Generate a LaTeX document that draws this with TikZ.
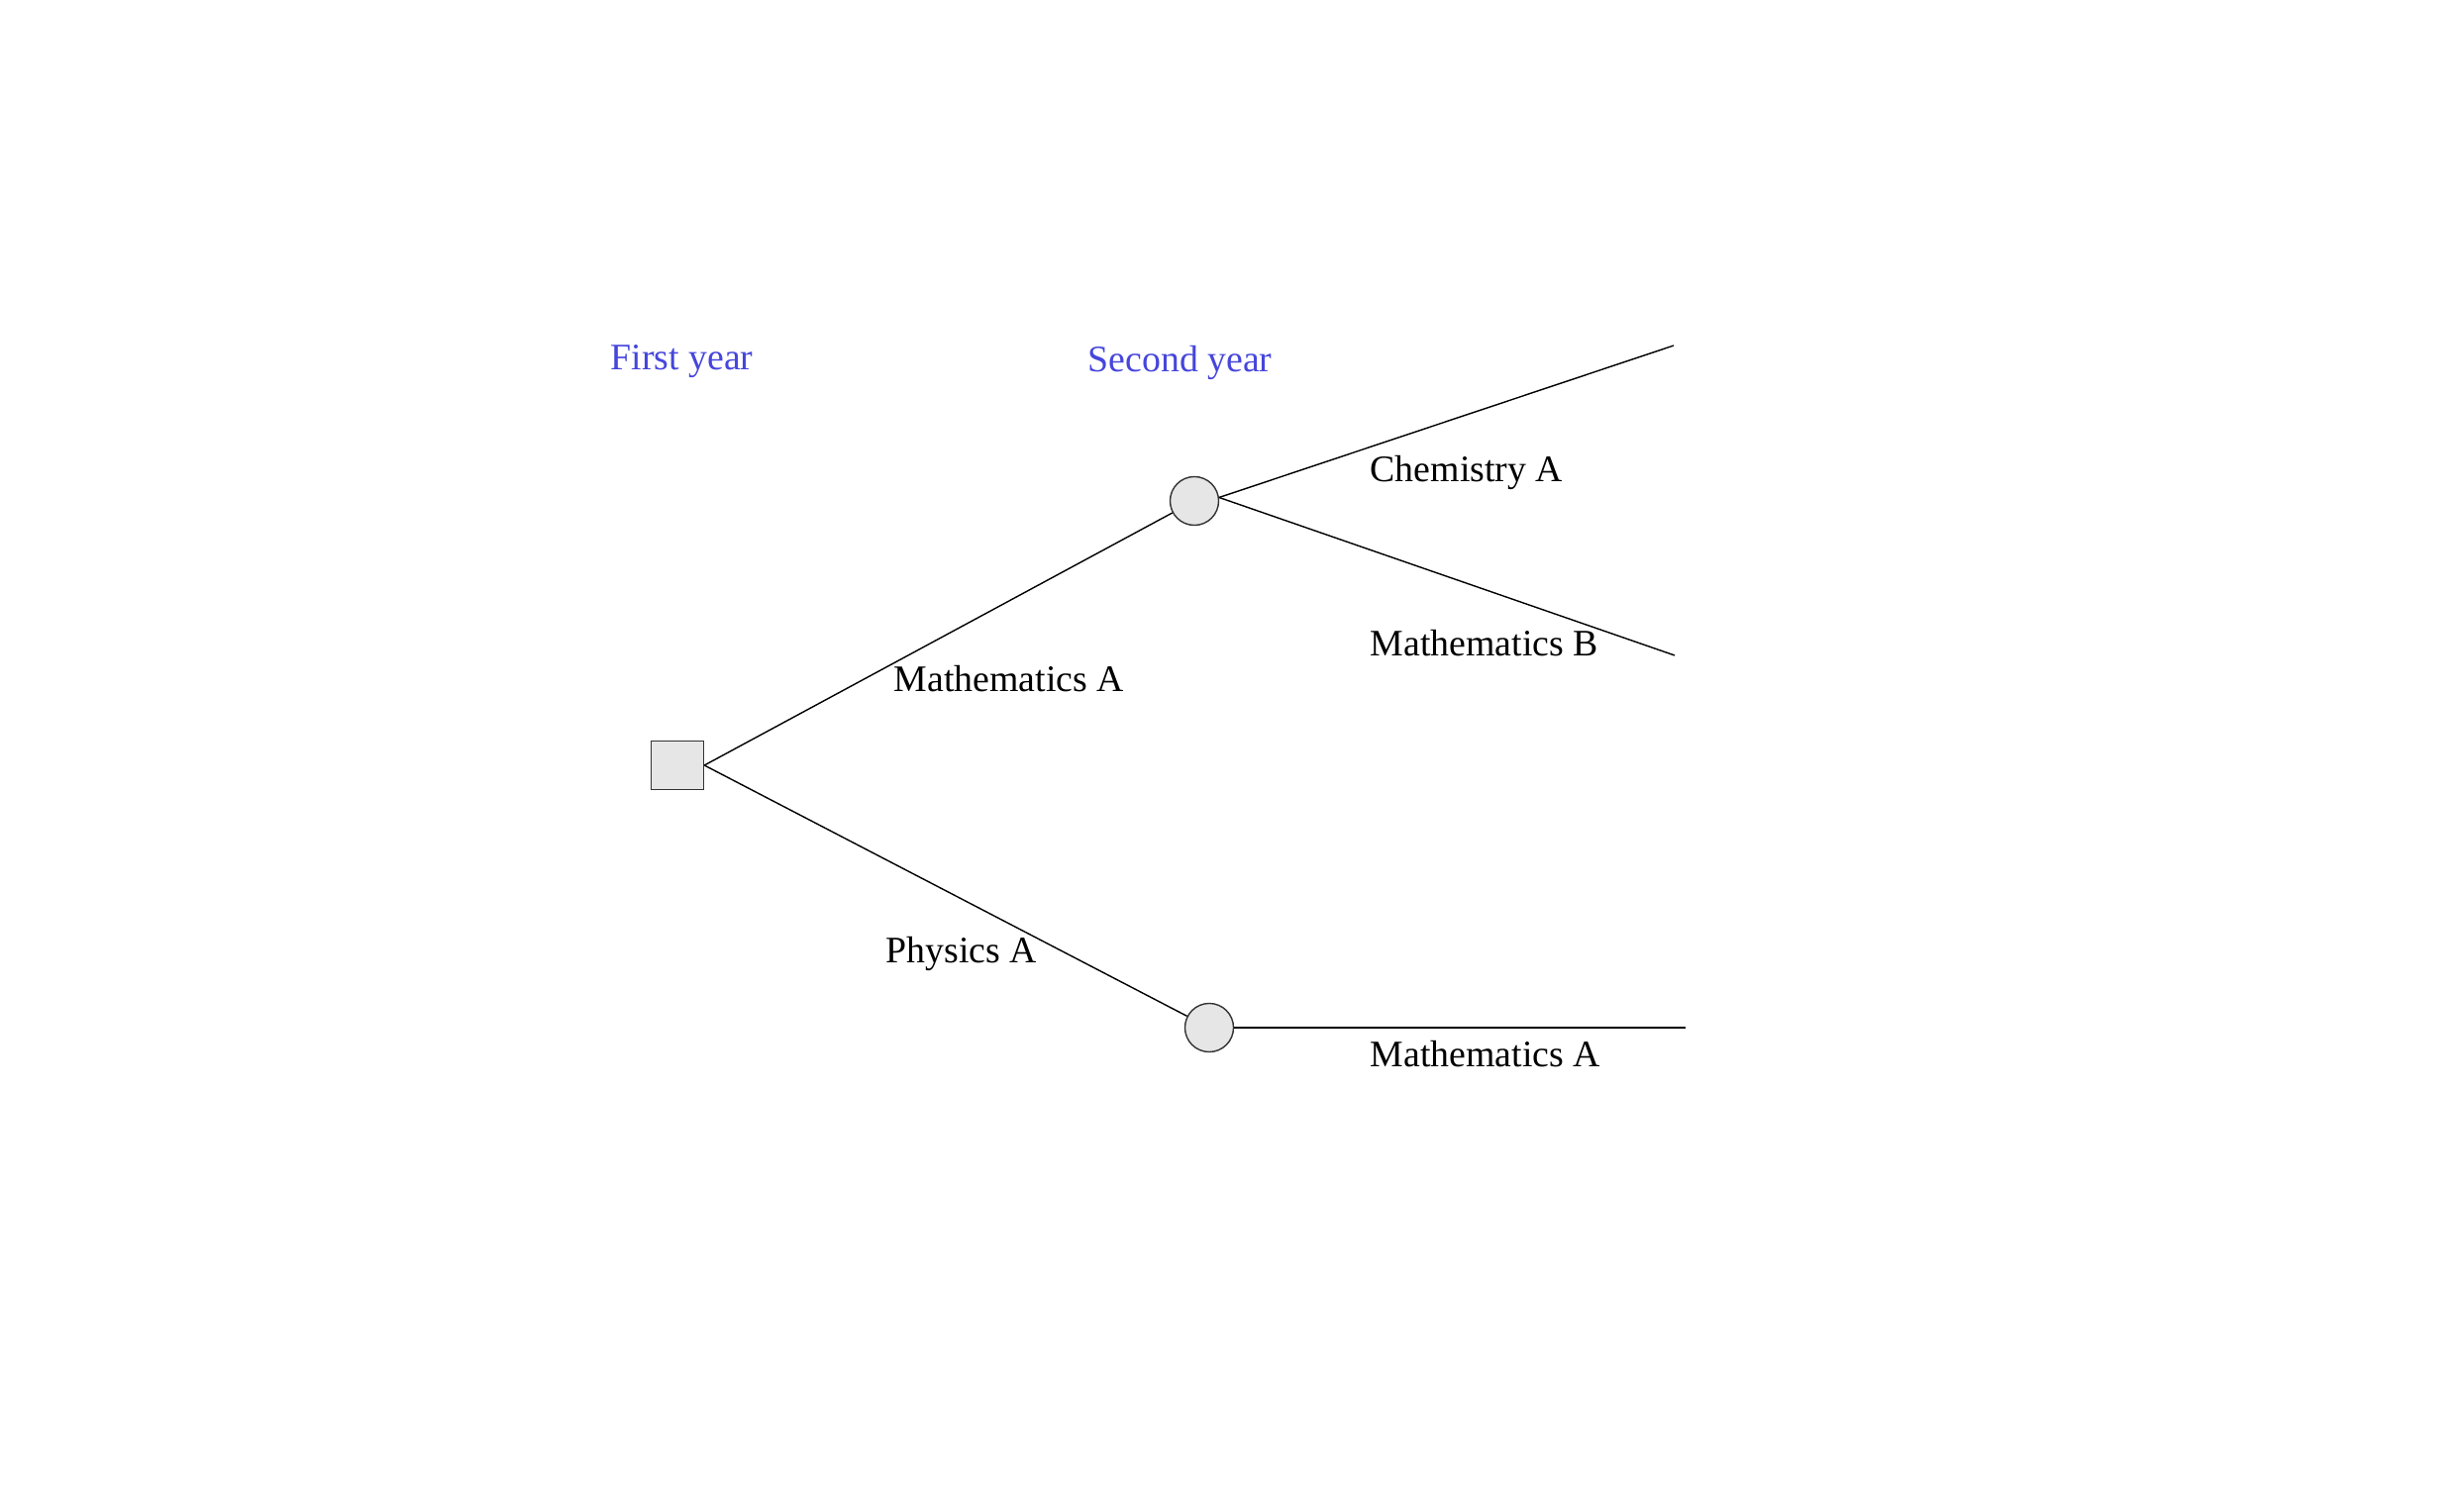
\documentclass[tikz,border=0pt]{standalone}
\usepackage{fontspec}
\setmainfont{Liberation Serif}
\usepackage{tikz}
\usetikzlibrary{positioning,calc}

\definecolor{yearblue}{RGB}{70,70,220}
\definecolor{nodegray}{RGB}{230,230,230}

\begin{document}
\begin{tikzpicture}[x=0.01cm,y=-0.01cm,
    decision/.style={draw=black!80,fill=nodegray,minimum width=0.53cm,minimum height=0.49cm,inner sep=0pt},
    chance/.style={circle,draw=black!80,fill=nodegray,minimum size=0.49cm,inner sep=0pt},
    year/.style={anchor=base west,inner sep=0pt,text=yearblue},
    branch/.style={anchor=base west,inner sep=0pt},
    every node/.append style={font=\fontsize{10.75}{13}\selectfont}]
      \useasboundingbox (0,0) rectangle (2488,1504);

      \node[year] (first) at (616,374) {First year};
      \node[year] (second) at (1098,376) {Second year};

      \node[decision] (root) at (684,773) {};
      \node[chance] (upper) at (1206,506) {};
      \node[chance] (lower) at (1221,1038) {};

      \coordinate (chemEnd) at (1690,349);
      \coordinate (mathBEnd) at (1691,662);
      \coordinate (mathAEnd) at (1702,1038);

      \draw[thin] (root.east) -- (upper);
      \draw[thin] (root.east) -- (lower);
      \draw[thin] (upper.8) -- (chemEnd);
      \draw[thin] (upper.8) -- (mathBEnd);
      \draw[semithick] (lower.east) -- (mathAEnd);

      \node[branch] (mathA) at (902,699) {Mathematics A};
      \node[branch] (phys) at (894,972) {Physics A};
      \node[branch] (chem) at (1383,487) {Chemistry A};
      \node[branch] (mathB) at (1383,663) {Mathematics B};
      \node[branch] (mathA2) at (1383,1077) {Mathematics A};
    \end{tikzpicture}
\end{document}
